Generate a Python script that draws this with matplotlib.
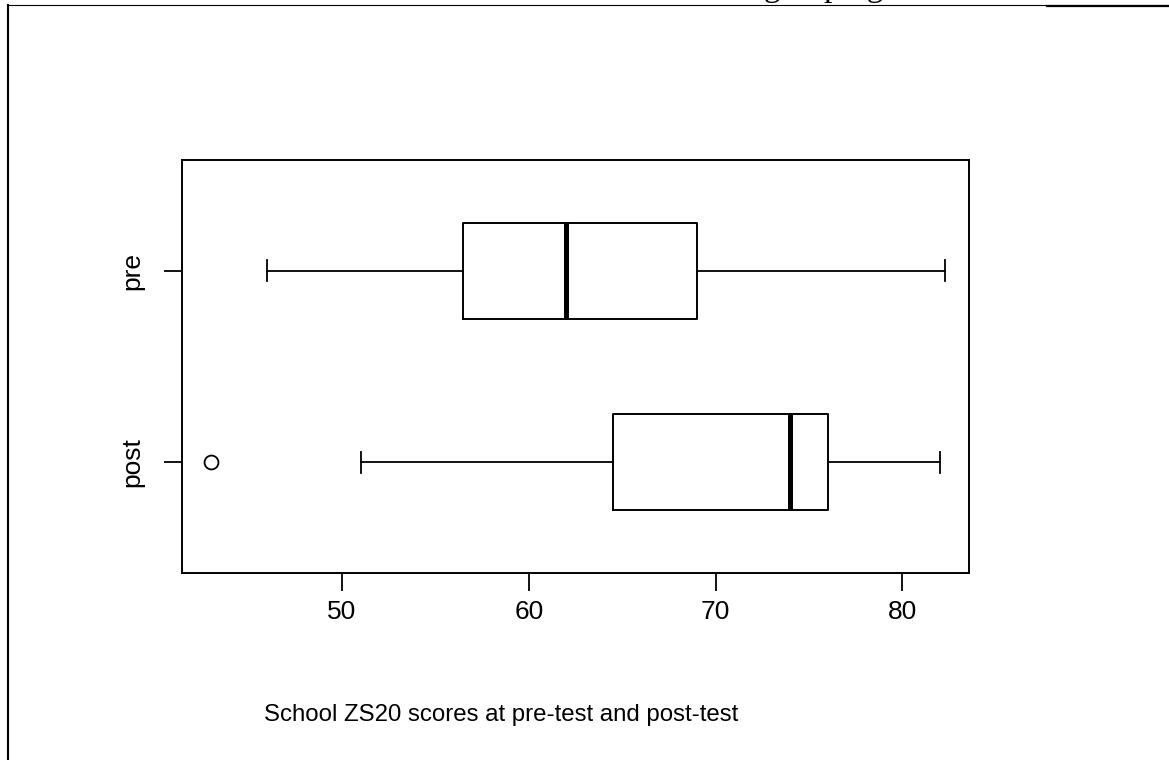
import matplotlib
matplotlib.use("Agg")
import matplotlib.pyplot as plt
from matplotlib.lines import Line2D

# box summary per group (bottom to top)
groups = ["post", "pre"]
whisk_lo = [51, 46]
q1 = [64.5, 56.5]
median = [74, 62]
q3 = [76, 69]
whisk_hi = [82, 82.3]
outliers = [[43], []]
xticks = [50, 60, 70, 80]
xlabel = "School ZS20 scores at pre-test and post-test"

plt.rcParams["font.family"] = ["Liberation Sans", "DejaVu Sans"]

W, H = 1169, 760
fig = plt.figure(figsize=(W / 100, H / 100), dpi=100)
ax = fig.add_axes([182 / W, 1 - 573 / H, (969 - 182) / W, (573 - 160) / H])

stats = []
for i in range(len(groups)):
    stats.append(dict(label=groups[i], whislo=whisk_lo[i], q1=q1[i], med=median[i],
                      q3=q3[i], whishi=whisk_hi[i], fliers=outliers[i]))

ax.bxp(stats, positions=[1, 2], widths=0.5, orientation="horizontal", capwidths=0.11,
       boxprops=dict(color="black", lw=1.4),
       whiskerprops=dict(color="black", lw=1.3, linestyle="-"),
       capprops=dict(color="black", lw=1.3),
       medianprops=dict(color="black", lw=3.6, solid_capstyle="butt"),
       flierprops=dict(marker="o", markersize=10, mfc="none", mec="black", mew=1.3))

ax.set_xlim(41.44, 83.56)
ax.set_ylim(0.42, 2.58)
ax.set_xticks(xticks)
ax.set_yticks([1, 2])
ax.set_yticklabels(groups, rotation=90, va="center")
ax.tick_params(axis="both", length=13, width=1.3, labelsize=19, color="black")
ax.tick_params(axis="x", pad=6.5)
ax.tick_params(axis="y", pad=14)
for s in ax.spines.values():
    s.set_linewidth(1.4)

fig.text(501 / W, 1 - 715 / H, xlabel, ha="center", va="center", fontsize=17.3)

# page frame and the clipped caption line above it
fig.add_artist(Line2D([7 / W, 1], [1 - 5 / H, 1 - 5 / H], color="black", lw=0.8))
fig.add_artist(Line2D([1047 / W, 1], [1 - 6 / H, 1 - 6 / H], color="black", lw=1.6))
fig.add_artist(Line2D([7.5 / W, 7.5 / W], [0, 1 - 5 / H], color="black", lw=1.5))
fig.text(764 / W, 1 + 4 / H, "grouping", family=["Liberation Serif", "DejaVu Serif"],
         fontsize=24, ha="left", va="baseline")

fig.savefig("out.png", dpi=100)
